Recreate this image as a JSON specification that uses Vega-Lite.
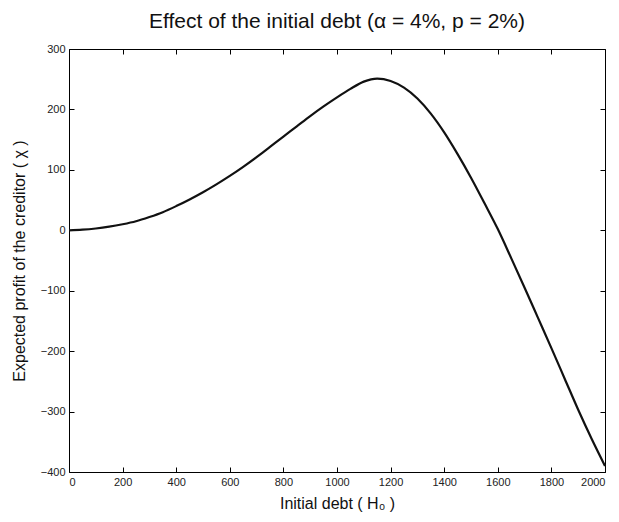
{
  "$schema": "https://vega.github.io/schema/vega-lite/v6.json",
  "autosize": {"type": "none"},
  "padding": {"left": 69, "top": 49, "right": 14, "bottom": 50},
  "width": 536,
  "height": 423,
  "background": "white",
  "title": {"text": "Effect of the initial debt (α = 4%, p = 2%)", "fontSize": 21, "fontWeight": "normal", "font": "Liberation Sans", "color": "#111", "offset": 11, "anchor": "middle"},
  "config": {
    "view": {"stroke": null},
    "axis": {"grid": false, "domainColor": "#000", "tickColor": "#000", "labelColor": "#222", "labelFont": "Liberation Sans", "labelFontSize": 11, "titleFont": "Liberation Sans", "titleFontSize": 16, "titleFontWeight": "normal", "titleColor": "#111", "tickSize": -5, "labelPadding": 9, "format": "d"}
  },
  "data": {"values": [
    {"x": 0, "y": 0}, {"x": 50, "y": 1}, {"x": 100, "y": 3}, {"x": 150, "y": 6}, {"x": 200, "y": 10},
    {"x": 250, "y": 15}, {"x": 300, "y": 22}, {"x": 350, "y": 30}, {"x": 400, "y": 40}, {"x": 450, "y": 51},
    {"x": 500, "y": 63}, {"x": 550, "y": 76}, {"x": 600, "y": 90}, {"x": 650, "y": 105}, {"x": 700, "y": 121},
    {"x": 750, "y": 138}, {"x": 800, "y": 155}, {"x": 850, "y": 172}, {"x": 900, "y": 189}, {"x": 950, "y": 205},
    {"x": 1000, "y": 220}, {"x": 1050, "y": 234}, {"x": 1100, "y": 246}, {"x": 1150, "y": 251}, {"x": 1200, "y": 247},
    {"x": 1250, "y": 236}, {"x": 1300, "y": 218}, {"x": 1350, "y": 193}, {"x": 1400, "y": 162}, {"x": 1450, "y": 126},
    {"x": 1500, "y": 87}, {"x": 1550, "y": 45}, {"x": 1600, "y": 2}, {"x": 1650, "y": -46}, {"x": 1700, "y": -95},
    {"x": 1750, "y": -145}, {"x": 1800, "y": -195}, {"x": 1850, "y": -246}, {"x": 1900, "y": -297}, {"x": 1950, "y": -345},
    {"x": 2000, "y": -390}
  ]},
  "layer": [
    {
      "mark": {"type": "line", "color": "#111", "strokeWidth": 2.2, "interpolate": "monotone"},
      "encoding": {
        "x": {"field": "x", "type": "quantitative", "scale": {"domain": [0, 2000], "nice": false, "zero": false},
              "axis": {"title": "Initial debt ( H₀ )", "values": [0, 200, 400, 600, 800, 1000, 1200, 1400, 1600, 1800, 2000], "titlePadding": 8}},
        "y": {"field": "y", "type": "quantitative", "scale": {"domain": [-400, 300], "nice": false, "zero": false},
              "axis": {"title": "Expected profit of the creditor ( χ )", "values": [-400, -300, -200, -100, 0, 100, 200, 300], "titlePadding": 13}}
      }
    },
    {
      "mark": {"type": "line", "opacity": 0},
      "encoding": {
        "x": {"field": "x", "type": "quantitative", "axis": {"orient": "top", "labels": false, "title": null, "values": [0, 200, 400, 600, 800, 1000, 1200, 1400, 1600, 1800, 2000]}},
        "y": {"field": "y", "type": "quantitative", "axis": {"orient": "right", "labels": false, "title": null, "values": [-400, -300, -200, -100, 0, 100, 200, 300]}}
      }
    }
  ],
  "resolve": {"axis": {"x": "independent", "y": "independent"}}
}
